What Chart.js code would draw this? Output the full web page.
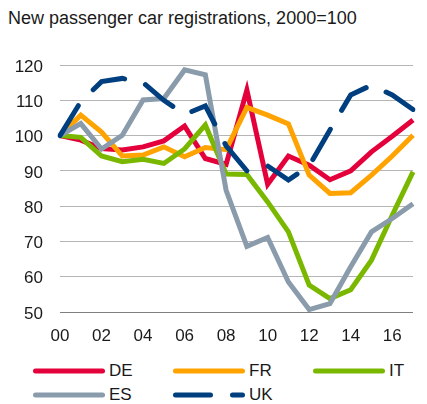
<!DOCTYPE html>
<html>
<head>
<meta charset="utf-8">
<script src="https://cdn.jsdelivr.net/npm/chart.js@4"></script>
<style>
  body { margin: 0; background: #fff; font-family: "Liberation Sans", Arial, sans-serif; color: #1a1a1a; }
  #wrap { position: relative; width: 427px; height: 404px; overflow: hidden; }
  #title { position: absolute; left: 8px; top: 9px; font-size: 18px; line-height: 18px; white-space: nowrap; }
  #box { position: absolute; left: 0; top: 0; width: 427px; height: 350px; }
  .item { position: absolute; height: 20px; display: flex; align-items: center; font-size: 17px; line-height: 20px; }
  .item canvas { margin-right: 1px; }
</style>
</head>
<body>
<div id="wrap">
  <div id="title">New passenger car registrations, 2000=100</div>
  <div id="box"><canvas id="carChart"></canvas></div>
  <div id="legend"></div>
</div>
<script>
// years 2000-2017, only every second one gets a label
const years = ['00', '01', '02', '03', '04', '05', '06', '07', '08', '09', '10', '11', '12', '13', '14', '15', '16', '17'];

const de = [100, 98.7, 96.3, 95.9, 96.8, 98.5, 102.7, 93.5, 91.8, 112.9, 86.2, 94.2, 91.6, 87.5, 90, 95.4, 99.8, 104.4];
const fr = [100, 105.8, 101, 94.2, 94.5, 96.8, 94, 96.6, 96, 108, 105.8, 103.3, 88.8, 83.6, 83.8, 88.8, 94.2, 100.1];
const it = [100, 99.5, 94.2, 92.6, 93.3, 92.1, 96.2, 103, 89.1, 89, 81.2, 72.7, 57.6, 53.8, 56.3, 64.7, 77.4, 89.7];
const es = [100, 103.4, 96.2, 100.1, 110.1, 110.5, 118.6, 117.2, 84.5, 68.6, 71.1, 58.5, 50.7, 52.4, 62.8, 72.7, 76.5, 80.7];
const uk = [100, 109.6, 115.3, 116.2, 115, 110, 106, 108.4, 97.1, 90, 91.4, 87.4, 91.4, 101.6, 111.5, 114.3, 111.5, 107.4];

const yMin = 50;
const yMax = 120;
const yStep = 10;

const ukDash = [35, 22];

function series(label, data, color, order, dash) {
    return {
        label: label,
        data: data,
        borderColor: color,
        backgroundColor: color,
        borderWidth: 5,
        borderDash: dash || [],
        borderCapStyle: dash ? 'round' : 'butt',
        pointRadius: 0,
        tension: 0,
        order: order
    };
}

const datasets = [
    series('DE', de, '#e4003b', 5),
    series('FR', fr, '#ffa300', 4),
    series('IT', it, '#7ab800', 3),
    series('ES', es, '#8a9bab', 2),
    series('UK', uk, '#003f7f', 1, ukDash)
];

const ctx = document.getElementById('carChart').getContext('2d');
const carChart = new Chart(ctx, {
    type: 'line',
    data: {
        labels: years,
        datasets: datasets
    },
    options: {
        responsive: true,
        maintainAspectRatio: false,
        animation: false,
        layout: { padding: { top: 65, left: 0, right: 0, bottom: 0 } },
        plugins: {
            legend: { display: false },
            tooltip: { enabled: false }
        },
        scales: {
            x: {
                afterFit: s => { s.height = 38; },
                grid: { display: false, drawTicks: false },
                border: { display: false },
                ticks: {
                    autoSkip: false,
                    maxRotation: 0,
                    padding: 14,
                    color: '#1a1a1a',
                    font: { family: 'Liberation Sans', size: 17 },
                    callback: (v, i) => (i % 2 === 0 ? years[i] : '')
                }
            },
            y: {
                min: yMin,
                max: yMax,
                afterFit: s => { s.width = 60; },
                grid: {
                    drawTicks: false,
                    lineWidth: 1,
                    color: c => (c.tick && c.tick.value === yMin ? '#7f7f7f' : '#b5b5b5')
                },
                border: { display: false },
                ticks: {
                    stepSize: yStep,
                    padding: 17,
                    labelOffset: 2,
                    color: '#1a1a1a',
                    font: { family: 'Liberation Sans', size: 17 }
                }
            }
        }
    }
});

// legend in three columns under the chart
const legendCols = [33, 173, 313];
const legendRows = [370.5, 395];
const legend = document.getElementById('legend');
datasets.forEach((ds, i) => {
    const item = document.createElement('div');
    item.className = 'item';
    item.style.left = (legendCols[i % 3] - 3) + 'px';
    item.style.top = (legendRows[Math.floor(i / 3)] - 10) + 'px';
    const c = document.createElement('canvas');
    c.width = 78;
    c.height = 10;
    const g = c.getContext('2d');
    g.strokeStyle = ds.borderColor;
    g.lineWidth = 5;
    g.lineCap = 'round';
    g.setLineDash(ds.borderDash);
    g.beginPath();
    g.moveTo(5.5, 5);
    g.lineTo(72.5, 5);
    g.stroke();
    item.appendChild(c);
    const t = document.createElement('span');
    t.textContent = ds.label;
    item.appendChild(t);
    legend.appendChild(item);
});
</script>
</body>
</html>
